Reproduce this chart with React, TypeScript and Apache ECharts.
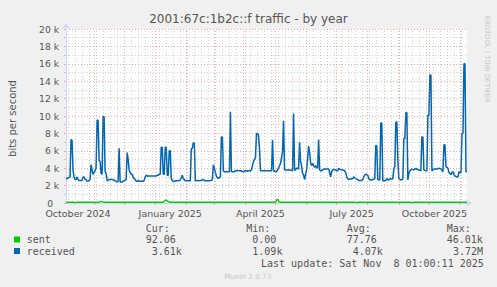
import { useEffect, useRef } from 'react';
import * as echarts from 'echarts';

// ---- time frame (munin "by year": last 400 days) ----
const START_UTC = Date.UTC(2024, 9, 4, 1, 0, 0);
const DAY_MS = 86400000;
const SPAN_DAYS = 400;

// ---- received, daily averages in k bits/s (day 0 = 2024-10-04) ----
const receivedK = [
  2.8, 2.8, 2.9, 2.9, 3.0, 7.3, 7.2, 3.8, 3.0, 2.7,
  2.7, 3.0, 2.7, 2.6, 2.6, 2.6, 2.6, 3.0, 3.0, 2.7,
  2.7, 2.5, 2.5, 2.6, 2.7, 4.4, 3.8, 3.3, 3.5, 3.7,
  4.0, 9.5, 9.5, 4.9, 4.8, 3.4, 3.3, 9.9, 9.9, 3.6,
  3.4, 2.6, 2.6, 2.7, 2.7, 2.7, 2.7, 2.7, 2.6, 2.6,
  2.5, 2.4, 2.5, 6.3, 2.4, 2.4, 2.4, 2.5, 2.6, 2.6,
  2.7, 5.8, 5.0, 3.8, 3.5, 3.3, 3.3, 3.0, 2.8, 2.7,
  2.5, 2.5, 2.6, 2.5, 2.5, 2.5, 2.5, 2.5, 2.6, 3.0,
  3.2, 3.1, 3.1, 3.1, 3.1, 3.1, 3.1, 3.1, 3.1, 3.1,
  3.1, 3.2, 3.2, 3.3, 3.3, 6.4, 6.4, 3.3, 3.3, 6.4,
  6.4, 3.2, 3.2, 6.0, 6.0, 2.8, 2.6, 2.45, 2.5, 2.55,
  2.55, 2.55, 2.55, 2.6, 2.65, 2.9, 3.2, 2.8, 2.7, 2.55,
  2.55, 2.55, 2.55, 2.55, 2.55, 6.2, 6.3, 6.9, 6.9, 2.55,
  2.55, 2.6, 2.6, 2.55, 2.6, 2.6, 2.65, 2.7, 2.6, 2.55,
  2.55, 2.55, 2.55, 2.55, 2.6, 2.6, 2.7, 4.4, 4.0, 3.5,
  3.1, 2.9, 2.85, 2.9, 3.0, 7.6, 7.6, 3.7, 3.6, 3.6,
  3.6, 3.6, 3.6, 3.6, 10.5, 3.6, 3.6, 3.6, 3.6, 3.7,
  3.7, 3.7, 3.75, 3.7, 3.7, 3.7, 3.6, 3.6, 3.65, 3.7,
  3.7, 3.65, 3.7, 3.7, 3.7, 3.8, 4.3, 4.75, 5.0, 5.2,
  8.0, 8.0, 7.8, 6.3, 3.7, 3.7, 3.7, 3.7, 3.7, 3.7,
  3.7, 3.7, 3.7, 3.7, 3.7, 3.7, 7.25, 3.7, 3.65, 3.6,
  3.6, 3.8, 4.0, 4.3, 4.55, 5.2, 5.9, 9.45, 3.8, 3.8,
  3.8, 3.8, 3.8, 3.8, 3.8, 3.75, 3.7, 10.3, 3.8, 3.8,
  4.0, 4.0, 3.9, 7.0, 4.8, 4.3, 3.4, 3.2, 2.7, 3.3,
  3.8, 5.0, 6.55, 5.8, 4.6, 4.3, 4.55, 4.3, 4.1, 4.3,
  4.1, 4.0, 7.3, 3.8, 3.7, 3.7, 3.8, 3.9, 3.9, 3.9,
  3.9, 3.9, 3.9, 3.5, 3.0, 3.6, 3.8, 3.85, 3.85, 3.8,
  3.7, 3.7, 4.0, 3.9, 3.85, 3.8, 3.8, 3.8, 3.7, 3.5,
  3.0, 2.8, 2.7, 2.75, 2.8, 2.75, 2.8, 3.0, 2.9, 2.8,
  2.75, 2.7, 2.6, 2.6, 2.6, 2.6, 2.7, 3.0, 3.2, 3.3,
  3.25, 3.2, 2.8, 2.7, 2.65, 2.65, 2.7, 2.75, 2.8, 6.6,
  6.6, 2.75, 2.65, 2.7, 9.2, 9.2, 2.55, 2.55, 2.55, 2.6,
  2.8, 2.7, 2.65, 2.75, 2.85, 2.75, 2.8, 3.9, 4.2, 9.3,
  9.3, 5.1, 2.8, 2.7, 2.65, 2.7, 2.75, 7.4, 7.4, 10.4,
  10.4, 2.65, 3.4, 3.7, 3.8, 3.9, 3.85, 3.8, 3.9, 4.0,
  3.9, 3.85, 3.8, 3.75, 3.7, 7.6, 7.6, 3.8, 3.75, 3.7,
  3.7, 10.1, 10.1, 14.7, 14.7, 3.7, 3.8, 3.9, 3.9, 3.9,
  3.9, 3.95, 4.0, 3.95, 3.9, 3.75, 3.6, 6.7, 6.7, 4.2,
  4.1, 4.0, 3.5, 3.4, 3.25, 3.5, 3.6, 3.25, 3.1, 3.05,
  3.0, 3.0, 3.6, 3.5, 3.45, 8.0, 8.0, 16.0, 16.0, 3.6, 3.6,
];

// ---- sent, k bits/s at the days where it changes ----
const sentDays = [0, 8, 9, 10, 33, 35, 37, 97, 99, 100, 102, 104, 209, 211, 213, 289, 290, 291, 344, 345, 346, 400];
const sentK = [0.09, 0.09, 0.0, 0.09, 0.09, 0.2, 0.09, 0.09, 0.3, 0.35, 0.15, 0.09, 0.09, 0.45, 0.09, 0.09, 0.0, 0.09, 0.09, 0.0, 0.09, 0.09];

// ---- axes ----
const yMaxK = 20;
const yStepK = 2;
const xLabelNames = ['October 2024', 'January 2025', 'April 2025', 'July 2025', 'October 2025'];
const xLabelMonths: [number, number][] = [[2024, 9], [2025, 0], [2025, 3], [2025, 6], [2025, 9]];

// ---- legend table ----
const legendHeaders = ['Cur:', 'Min:', 'Avg:', 'Max:'];
const sentStats = ['92.06', '0.00', '77.76', '46.01k'];
const receivedStats = ['3.61k', '1.09k', '4.07k', '3.72M'];
const lastUpdate = 'Last update: Sat Nov  8 01:00:11 2025';

const dayOf = (y: number, m: number, d: number) => (Date.UTC(y, m, d) - START_UTC) / DAY_MS;

export default function App() {
  const ref = useRef<HTMLDivElement>(null);
  useEffect(() => {
    if (!ref.current) return;
    const chart = echarts.init(ref.current, undefined, { renderer: 'svg' });

    const majorColor = 'rgba(230,90,90,0.5)';
    const minorColor = 'rgba(150,150,150,0.42)';
    const axisColor = '#CFD6F8';
    const fontColor = '#555';

    // month starts (major grid) and Sundays (minor grid)
    const monthLines: number[] = [];
    for (let k = 0; k < 14; k++) {
      const y = 2024 + Math.floor((9 + k) / 12);
      const m = (9 + k) % 12;
      const d = dayOf(y, m, 1);
      if (d > 0 && d < SPAN_DAYS) monthLines.push(d);
    }
    const weekLines: number[] = [];
    for (let d = dayOf(2024, 9, 6); d < SPAN_DAYS; d += 7) {
      if (!monthLines.some((md) => Math.abs(md - d) < 0.5)) weekLines.push(d);
    }
    const labelDays = xLabelMonths.map(([y, m], i) =>
      i === xLabelMonths.length - 1 ? SPAN_DAYS : dayOf(y, m, 16)
    );

    const mono = '10px "DejaVu Sans Mono", monospace';
    const txt = (x: number, y: number, text: string, font: string, fill: string, align = 'left', rotation = 0) => ({
      type: 'text', x, y, rotation, silent: true, z: 10,
      style: { text, font, fill, align, textAlign: align, verticalAlign: 'middle', textVerticalAlign: 'middle' },
    });
    const colX = [145.7, 246.3, 346.7, 446.7];
    const sentX = [145.7, 252.3, 346.7, 446.7];
    const recvX = [151.7, 252.3, 352.7, 453];

    const graphic: any[] = [
      txt(248.5, 19, '2001:67c:1b2c::f traffic - by year', '12px "DejaVu Sans"', fontColor, 'center'),
      txt(12, 118.5, 'bits per second', '10px "DejaVu Sans"', fontColor, 'center', Math.PI / 2),
      txt(487, 59, 'RRDTOOL / TOBI OETIKER', '6.8px "DejaVu Sans"', '#c4c4c4', 'center', -Math.PI / 2),
      txt(247.7, 276, 'Munin 2.0.73', '7.2px "DejaVu Sans"', '#c8c8c8', 'center'),
      ...legendHeaders.map((h, i) => txt(colX[i], 228.5, h, mono, fontColor)),
      { type: 'rect', shape: { x: 14, y: 236.5, width: 6, height: 6 }, style: { fill: '#00cc00' }, silent: true },
      txt(26.7, 239.5, 'sent', mono, fontColor),
      ...sentStats.map((s, i) => txt(sentX[i], 239.5, s, mono, fontColor)),
      { type: 'rect', shape: { x: 14, y: 248, width: 6, height: 6 }, style: { fill: '#0066b3' }, silent: true },
      txt(26.7, 251, 'received', mono, fontColor),
      ...receivedStats.map((s, i) => txt(recvX[i], 251, s, mono, fontColor)),
      txt(261, 263.5, lastUpdate, mono, fontColor),
    ];

    chart.setOption({
      animation: false,
      backgroundColor: '#f0f0f0',
      grid: { left: 66, right: 30, top: 29, bottom: 84, show: true, backgroundColor: '#ffffff', borderWidth: 0 },
      xAxis: {
        type: 'value',
        min: 0,
        max: SPAN_DAYS,
        axisLine: {
          show: true,
          onZero: false,
          lineStyle: { color: axisColor, width: 1 },
          symbol: ['none', 'arrow'],
          symbolSize: [6, 6],
          symbolOffset: [0, 5],
        },
        axisTick: { show: true, customValues: monthLines, length: 2, inside: false, lineStyle: { color: majorColor } },
        axisLabel: {
          customValues: labelDays,
          formatter: (v: number) => {
            let best = 0;
            labelDays.forEach((d, i) => { if (Math.abs(d - v) < Math.abs(labelDays[best] - v)) best = i; });
            return xLabelNames[best];
          },
          alignMaxLabel: 'right',
          color: fontColor,
          fontFamily: 'DejaVu Sans',
          fontSize: 9.5,
          lineHeight: 10,
          margin: 5,
        },
        splitLine: { show: false },
      },
      yAxis: {
        type: 'value',
        min: 0,
        max: yMaxK,
        interval: yStepK,
        axisLine: {
          show: true,
          lineStyle: { color: axisColor, width: 1 },
          symbol: ['none', 'arrow'],
          symbolSize: [6, 6],
          symbolOffset: [0, 6],
        },
        axisTick: { show: true, length: 2, lineStyle: { color: majorColor } },
        minorTick: { show: true, splitNumber: 2, length: 2, lineStyle: { color: minorColor } },
        axisLabel: {
          formatter: (v: number) => (v === 0 ? '{z|0}' : `${v} k`),
          rich: { z: { padding: [0, 6, 0, 0], fontSize: 9.2, lineHeight: 9, fontFamily: 'DejaVu Sans', color: fontColor } },
          color: fontColor,
          fontFamily: 'DejaVu Sans',
          fontSize: 9.2,
          lineHeight: 9,
          margin: 7,
        },
        splitLine: { show: true, lineStyle: { color: majorColor, type: [1, 2], width: 1 } },
        minorSplitLine: { show: true, lineStyle: { color: minorColor, type: [1, 2], width: 1 } },
      },
      series: [
        {
          type: 'line',
          name: 'grid',
          data: [],
          silent: true,
          z: 1,
          markLine: {
            silent: true,
            symbol: ['none', 'none'],
            label: { show: false },
            animation: false,
            data: [
              ...weekLines.map((d) => ({ xAxis: d, lineStyle: { color: minorColor, type: [1, 2], width: 1 } })),
              ...monthLines.map((d) => ({ xAxis: d, lineStyle: { color: majorColor, type: [1, 2], width: 1 } })),
            ],
          },
        },
        {
          type: 'line',
          name: 'sent',
          data: sentDays.map((d, i) => [d, sentK[i]]),
          showSymbol: false,
          lineStyle: { color: '#00cc00', width: 1.4 },
          z: 3,
        },
        {
          type: 'line',
          name: 'received',
          data: receivedK.map((v, i) => [i, v]),
          showSymbol: false,
          lineStyle: { color: '#0066b3', width: 1.5 },
          z: 4,
        },
      ],
      graphic,
    });
    return () => chart.dispose();
  }, []);
  return <div ref={ref} style={{ position: 'fixed', left: 0, top: 0, width: 497, height: 287 }} />;
}
